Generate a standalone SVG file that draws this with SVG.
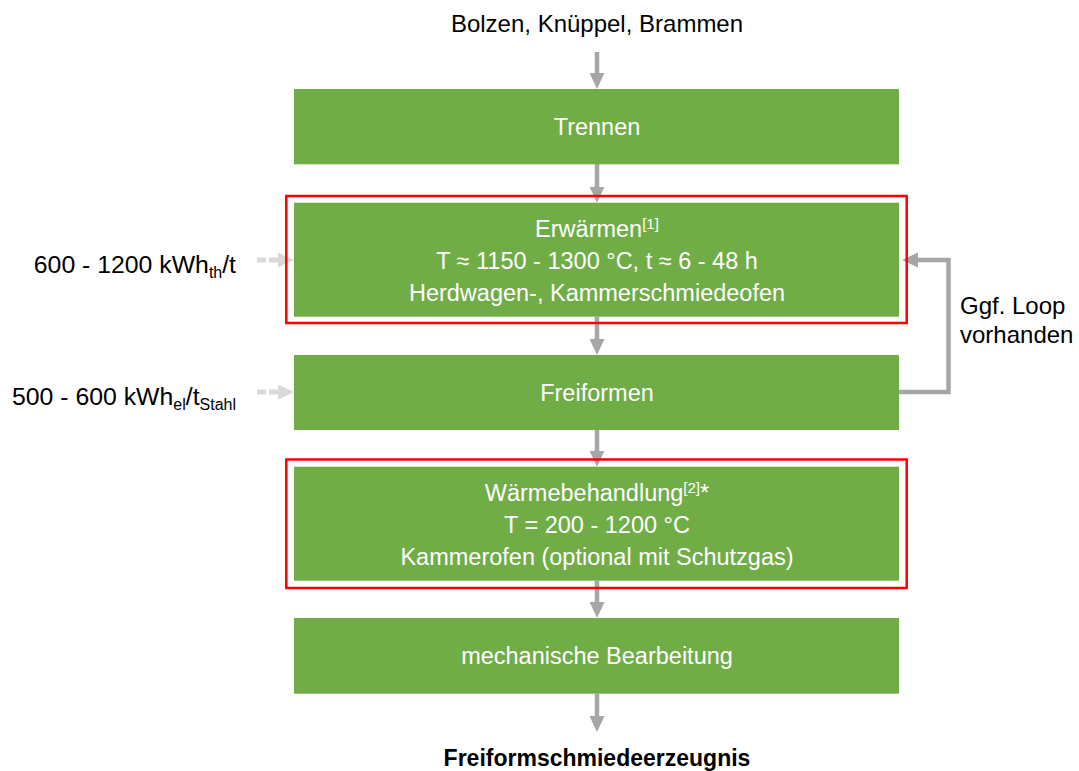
<svg xmlns="http://www.w3.org/2000/svg" width="1079" height="771" viewBox="0 0 1079 771">
  <style>
    .box { fill: #70ad47; }
    .frame { fill: none; stroke: #ff0000; stroke-width: 2.5; }
    .bt { font-family: "Liberation Sans", Arial, sans-serif; font-size: 23.5px; fill: #ffffff; text-anchor: middle; }
    .ot { font-family: "Liberation Sans", Arial, sans-serif; font-size: 24px; fill: #000000; }
    .lab { font-size: 24.8px; }
    .sup { font-size: 15px; }
    .sub { font-size: 16px; }
    .conn { fill: none; stroke: #a6a6a6; stroke-width: 4.5; }
    .dash { fill: none; stroke: #d9d9d9; stroke-width: 5; stroke-dasharray: 9 3; }
  </style>
  <defs>
    <marker id="ah" markerUnits="userSpaceOnUse" viewBox="0 0 16 15" refX="8" refY="7.5" markerWidth="16" markerHeight="15" orient="auto">
      <path d="M0,0 L16,7.5 L0,15 Z" fill="#a6a6a6"/>
    </marker>
    <marker id="ahl" markerUnits="userSpaceOnUse" viewBox="0 0 16 15" refX="8" refY="7.5" markerWidth="16" markerHeight="15" orient="auto">
      <path d="M0,0 L16,7.5 L0,15 Z" fill="#d9d9d9"/>
    </marker>
  </defs>
  <rect width="1079" height="771" fill="#ffffff"/>

  <g id="connectors">
    <line class="conn" x1="597" y1="52" x2="597" y2="81" marker-end="url(#ah)"/>
    <line class="conn" x1="597" y1="164" x2="597" y2="194.7" marker-end="url(#ah)"/>
    <line class="conn" x1="597" y1="316.7" x2="597" y2="347" marker-end="url(#ah)"/>
    <line class="conn" x1="597" y1="430" x2="597" y2="458.7" marker-end="url(#ah)"/>
    <line class="conn" x1="597" y1="580.7" x2="597" y2="610" marker-end="url(#ah)"/>
    <line class="conn" x1="597" y1="693.7" x2="597" y2="724" marker-end="url(#ah)"/>
    <path class="conn" d="M899,392 H948.5 V260 H910" marker-end="url(#ah)"/>
    <line class="dash" x1="257" y1="260" x2="286" y2="260" marker-end="url(#ahl)"/>
    <line class="dash" x1="257" y1="392" x2="286" y2="392" marker-end="url(#ahl)"/>
  </g>

  <g id="input">
    <text class="ot" x="597" y="31.5" text-anchor="middle">Bolzen, Knüppel, Brammen</text>
  </g>

  <g id="trennen">
    <rect class="box" x="294" y="89" width="605" height="75.3"/>
    <text class="bt" x="597" y="135">Trennen</text>
  </g>

  <g id="erwaermen">
    <rect class="frame" x="286.3" y="196" width="620.4" height="127"/>
    <rect class="box" x="294" y="202.7" width="605" height="114"/>
    <text class="bt" x="597" y="236.7">Erwärmen<tspan class="sup" dy="-8">[1]</tspan></text>
    <text class="bt" x="597" y="269">T ≈ 1150 - 1300 °C, t ≈ 6 - 48 h</text>
    <text class="bt" x="597" y="301">Herdwagen-, Kammerschmiedeofen</text>
  </g>

  <g id="energie-th">
    <text class="ot lab" x="236" y="273.3" text-anchor="end">600 - 1200 kWh<tspan class="sub" dy="5">th</tspan><tspan dy="-5">/t</tspan></text>
  </g>

  <g id="freiformen">
    <rect class="box" x="294" y="355" width="605" height="75"/>
    <text class="bt" x="597" y="400.5">Freiformen</text>
  </g>

  <g id="energie-el">
    <text class="ot lab" x="236" y="405" text-anchor="end">500 - 600 kWh<tspan class="sub" dy="5">el</tspan><tspan dy="-5">/t</tspan><tspan class="sub" dy="5">Stahl</tspan></text>
  </g>

  <g id="loop-label">
    <text class="ot" x="960" y="314">Ggf. Loop</text>
    <text class="ot" x="960" y="343">vorhanden</text>
  </g>

  <g id="waermebehandlung">
    <rect class="frame" x="286.3" y="459.5" width="620.4" height="128.5"/>
    <rect class="box" x="294" y="466.7" width="605" height="114"/>
    <text class="bt" x="597" y="501">Wärmebehandlung<tspan class="sup" dy="-8">[2]</tspan><tspan dy="8">*</tspan></text>
    <text class="bt" x="597" y="532.5">T = 200 - 1200 °C</text>
    <text class="bt" x="597" y="564.5">Kammerofen (optional mit Schutzgas)</text>
  </g>

  <g id="bearbeitung">
    <rect class="box" x="294" y="618" width="605" height="75.7"/>
    <text class="bt" x="597" y="664">mechanische Bearbeitung</text>
  </g>

  <g id="output">
    <text class="ot" x="597" y="766" text-anchor="middle" font-weight="bold" style="font-size:23px">Freiformschmiedeerzeugnis</text>
  </g>
</svg>
